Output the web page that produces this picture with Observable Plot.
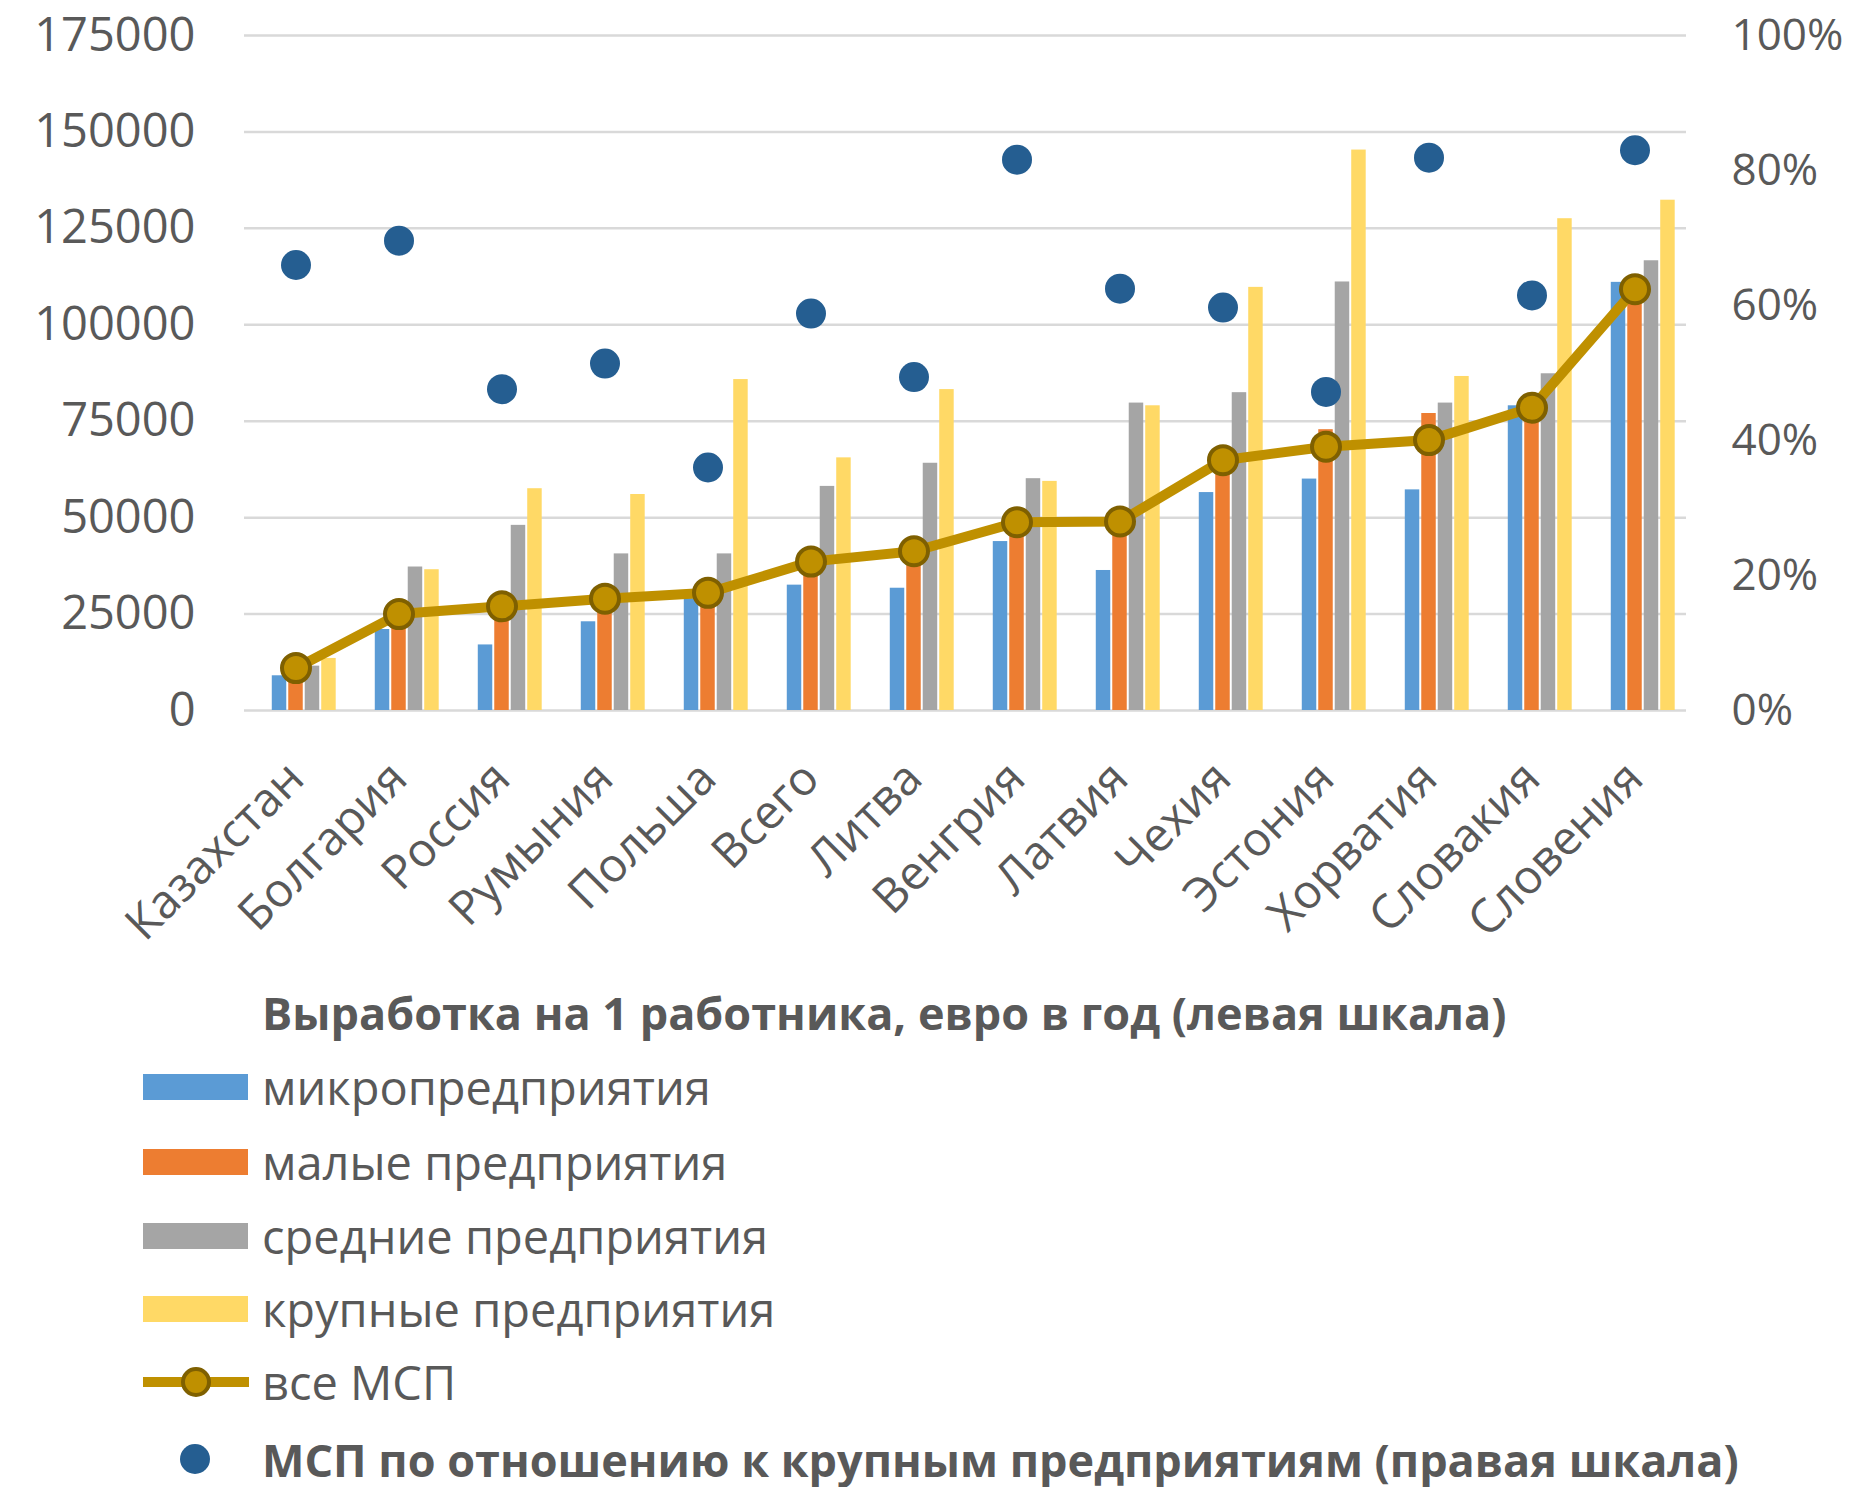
<!DOCTYPE html>
<html><head><meta charset="utf-8">
<script src="https://cdn.jsdelivr.net/npm/d3@7"></script>
<script src="https://cdn.jsdelivr.net/npm/@observablehq/plot@0.6"></script>
<style>
html,body{margin:0;padding:0;background:#fff;}
#chart{position:relative;width:1849px;height:1487px;font-family:"Open Sans",sans-serif;color:#595959;}
#plot{position:absolute;left:0;top:0;}
.leg{position:absolute;left:0;width:1849px;font-size:47px;line-height:1;}
.leg .txt{position:absolute;left:262px;white-space:nowrap;transform:translateY(-50%);}
.leg .sw{position:absolute;left:143px;width:105px;height:26px;transform:translateY(-50%);}
.bold{font-weight:700;font-size:45px;}
</style></head><body><div id="chart"><div id="plot"></div><div id="legend"></div></div>
<script>
const countries = ["Казахстан","Болгария","Россия","Румыния","Польша","Всего","Литва","Венгрия","Латвия","Чехия","Эстония","Хорватия","Словакия","Словения"];
const micro  = [9000, 21000, 17000, 23000, 29000, 32500, 31700, 43800, 36300, 56500, 60000, 57200, 79000, 111000];
const small  = [8000, 24000, 26000, 28000, 29500, 37000, 40000, 47000, 47000, 63000, 72800, 77000, 78000, 108000];
const medium = [11500, 37200, 48000, 40600, 40600, 58100, 64100, 60100, 79700, 82400, 111100, 79700, 87300, 116600];
const large  = [13500, 36500, 57500, 56000, 85800, 65500, 83200, 59400, 79000, 109700, 145300, 86600, 127500, 132300];
const allSme = [11000, 25000, 27000, 29000, 30500, 38600, 41300, 48800, 49000, 64900, 68400, 70100, 78500, 109200];
const smeVsLarge = [66, 69.6, 47.6, 51.4, 36, 58.8, 49.4, 81.6, 62.5, 59.7, 47.2, 81.9, 61.5, 83];
const leftTicks = [0, 25000, 50000, 75000, 100000, 125000, 150000, 175000];
const rightTicks = [0, 20, 40, 60, 80, 100];
const seriesNames = ["микропредприятия", "малые предприятия", "средние предприятия", "крупные предприятия"];
const lineName = "все МСП";
const dotName = "МСП по отношению к крупным предприятиям (правая шкала)";
const legendTitle = "Выработка на 1 работника, евро в год (левая шкала)";

const colors = ["#5B9BD5", "#ED7D31", "#A5A5A5", "#FFD966"];
const lineColor = "#BF9000", markerStroke = "#7F6000", dotColor = "#255E91";

const rows = countries.map((c, i) => ({
  country: c, micro: micro[i], small: small[i], medium: medium[i], large: large[i],
  allSme: allSme[i], ratio: smeVsLarge[i]
}));
const keys = ["micro", "small", "medium", "large"];

const W = 1849, H = 960, mL = 244, mR = 163, mT = 35, mB = 250;
const yMax = leftTicks[leftTicks.length - 1];
const band = (W - mL - mR) / countries.length;
const slot = band * 0.16;
const groupLeft = (band - 5 * slot) / 2;

const barMarks = keys.map((k, i) => Plot.barY(rows, {
  x: "country", y: k, fill: colors[i],
  insetLeft: groupLeft + (i + 1) * slot + 1,
  insetRight: band - (groupLeft + (i + 2) * slot) + 1
}));

const chart = Plot.plot({
  width: W, height: H,
  marginLeft: mL, marginRight: mR, marginTop: mT, marginBottom: mB,
  style: {fontFamily: "Open Sans, sans-serif", fontSize: "47px", color: "#595959", background: "white"},
  x: {domain: countries, padding: 0},
  y: {domain: [0, yMax]},
  marks: [
    Plot.ruleY(leftTicks, {stroke: "#D9D9D9", strokeWidth: 2.5}),
    ...barMarks,
    Plot.line(rows, {x: "country", y: "allSme", stroke: lineColor, strokeWidth: 10, strokeLinejoin: "round"}),
    Plot.dot(rows, {x: "country", y: "allSme", r: 14, fill: lineColor, stroke: markerStroke, strokeWidth: 4}),
    Plot.dot(rows, {x: "country", y: d => d.ratio / 100 * yMax, r: 15, fill: dotColor}),
    Plot.axisY({anchor: "left", ticks: leftTicks, tickFormat: d => String(d), tickSize: 0, tickPadding: 49, fill: "#595959", fontSize: 47, label: null}),
    Plot.axisY({anchor: "right", ticks: rightTicks.map(p => p / 100 * yMax), tickFormat: d => Math.round(d / yMax * 100) + "%", tickSize: 0, tickPadding: 45, fill: "#595959", fontSize: 44, label: null}),
    Plot.axisX({tickRotate: -45, tickSize: 0, tickPadding: 60, fill: "#595959", fontSize: 47, label: null})
  ]
});
document.getElementById("plot").appendChild(chart);

// Legend
const legend = document.getElementById("legend");
function addText(y, text, bold) {
  const d = document.createElement("div");
  d.className = "leg";
  d.style.top = y + "px";
  const t = document.createElement("div");
  t.className = "txt" + (bold ? " bold" : "");
  t.textContent = text;
  d.appendChild(t);
  legend.appendChild(d);
  return d;
}
addText(1012, legendTitle, true);
const itemYs = [1087, 1162, 1236, 1309];
seriesNames.forEach((n, i) => {
  const d = addText(itemYs[i], n, false);
  const s = document.createElement("div");
  s.className = "sw";
  s.style.background = colors[i];
  d.appendChild(s);
});
const lineItem = addText(1382, lineName, false);
lineItem.insertAdjacentHTML("beforeend",
  `<svg style="position:absolute;left:140px;top:-20px" width="112" height="40"><line x1="3" x2="109" y1="20" y2="20" stroke="${lineColor}" stroke-width="10"/><circle cx="56" cy="20" r="13" fill="${lineColor}" stroke="${markerStroke}" stroke-width="4"/></svg>`);
const dotItem = addText(1459, dotName, true);
dotItem.insertAdjacentHTML("beforeend",
  `<svg style="position:absolute;left:178px;top:-17px" width="34" height="34"><circle cx="17" cy="17" r="15" fill="${dotColor}"/></svg>`);
</script></body></html>
